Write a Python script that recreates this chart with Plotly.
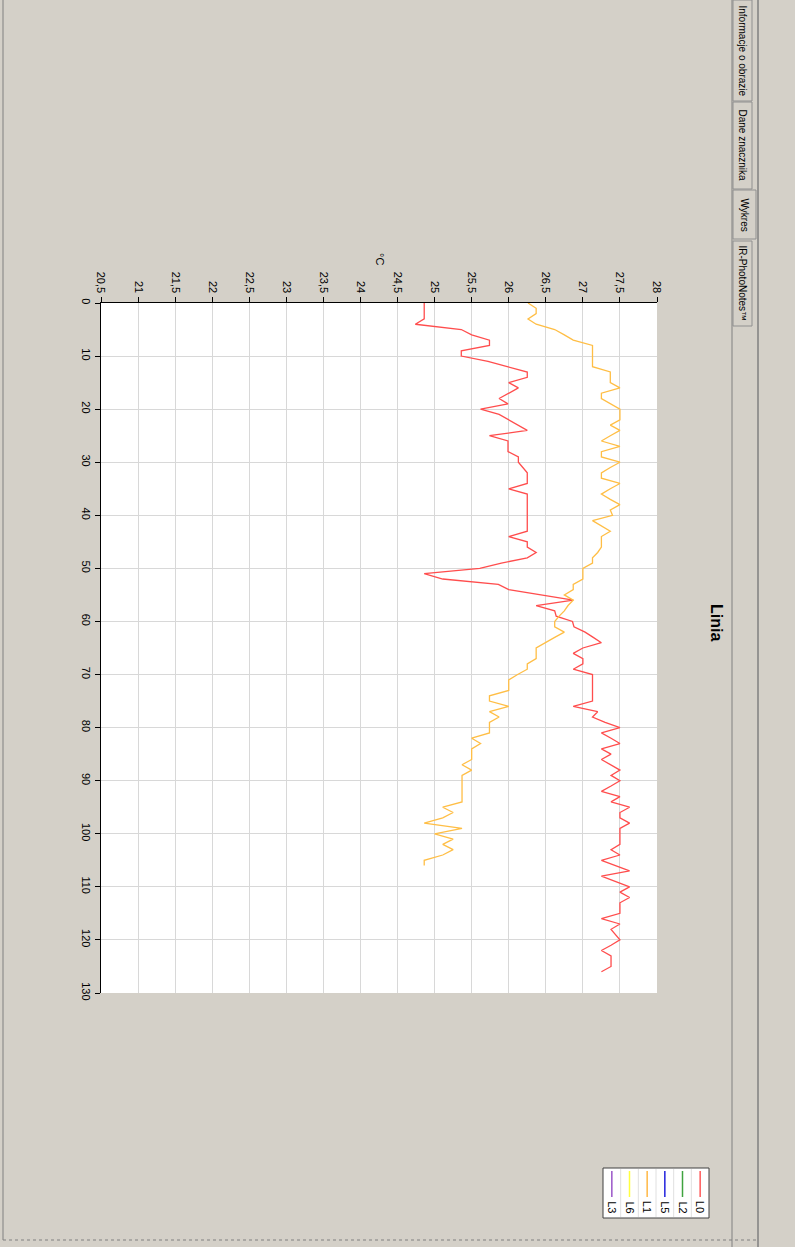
import plotly.graph_objects as go

# ---------------- data ----------------
distance_L0 = list(range(0, 127))
temp_L0 = [24.86, 24.86, 24.86, 24.86, 24.74, 25.36, 25.50, 25.74, 25.74, 25.36,
           25.36, 25.72, 25.98, 26.25, 26.25, 26.00, 26.13, 26.00, 25.87, 25.99,
           25.62, 25.87, 26.00, 26.12, 26.25, 25.74, 25.99, 25.99, 25.99, 26.13,
           26.13, 26.19, 26.25, 26.25, 26.25, 26.00, 26.25, 26.25, 26.25, 26.25,
           26.25, 26.25, 26.25, 26.25, 26.00, 26.25, 26.25, 26.37, 26.25, 25.90,
           25.61, 24.86, 25.11, 25.86, 26.00, 26.43, 26.87, 26.37, 26.62, 26.64,
           26.86, 26.88, 27.03, 27.14, 27.25, 27.00, 26.87, 27.00, 27.00, 26.87,
           27.13, 27.13, 27.13, 27.13, 27.13, 27.13, 26.87, 27.20, 27.13, 27.30,
           27.50, 27.25, 27.38, 27.50, 27.25, 27.38, 27.25, 27.38, 27.50, 27.38,
           27.50, 27.38, 27.25, 27.50, 27.38, 27.63, 27.50, 27.50, 27.63, 27.50,
           27.50, 27.50, 27.50, 27.38, 27.50, 27.25, 27.44, 27.63, 27.25, 27.44,
           27.63, 27.50, 27.63, 27.50, 27.50, 27.50, 27.25, 27.50, 27.38, 27.44,
           27.50, 27.38, 27.25, 27.38, 27.38, 27.38, 27.25]

distance_L1 = list(range(0, 107))
temp_L1 = [26.26, 26.37, 26.37, 26.26, 26.37, 26.62, 26.75, 26.87, 27.13, 27.13,
           27.13, 27.13, 27.13, 27.37, 27.37, 27.37, 27.50, 27.25, 27.25, 27.37,
           27.50, 27.50, 27.50, 27.37, 27.50, 27.37, 27.25, 27.50, 27.25, 27.25,
           27.50, 27.37, 27.25, 27.25, 27.50, 27.37, 27.25, 27.37, 27.50, 27.37,
           27.40, 27.13, 27.25, 27.37, 27.25, 27.25, 27.25, 27.20, 27.13, 27.13,
           27.00, 27.00, 27.00, 26.87, 26.87, 26.75, 26.87, 26.80, 26.75, 26.68,
           26.62, 26.62, 26.75, 26.62, 26.50, 26.37, 26.37, 26.37, 26.25, 26.25,
           26.12, 26.00, 26.00, 26.00, 25.74, 25.74, 26.00, 25.74, 25.87, 25.74,
           25.74, 25.74, 25.50, 25.62, 25.50, 25.50, 25.50, 25.37, 25.50, 25.37,
           25.37, 25.37, 25.37, 25.37, 25.37, 25.11, 25.25, 25.11, 24.86, 25.37,
           25.00, 25.25, 25.11, 25.25, 25.11, 24.86, 24.86]

legend_names = ["L0", "L2", "L5", "L1", "L6", "L3"]
legend_colors = ["#ff5a5a", "#3fa33f", "#2222dd", "#ffb845", "#ffff40", "#9a55c8"]

temp_ticks = [20.5, 21, 21.5, 22, 22.5, 23, 23.5, 24, 24.5, 25, 25.5, 26, 26.5, 27, 27.5, 28]
temp_tick_labels = ["20,5", "21", "21,5", "22", "22,5", "23", "23,5", "24", "24,5",
                    "25", "25,5", "26", "26,5", "27", "27,5", "28"]
dist_ticks = list(range(0, 131, 10))

tab_labels = ["Informacje o obrazie", "Dane znacznika", "Wykres", "IR-PhotoNotes\u2122"]
title_text = "Linia"
unit_text = "\u00b0C"

# ---------------- layout geometry ----------------
W, H = 795, 1247
L, R, T, B = 101, 138, 303, 254
PW = W - L - R
PH = H - T - B
BG = "#d4d0c8"
FONT = "Liberation Sans"


def px(x):
    return (x - L) / PW


def py(y):
    return (H - B - y) / PH


fig = go.Figure()
fig.add_trace(go.Scatter(x=temp_L0, y=distance_L0, mode="lines", name="L0",
                         line=dict(color="#ff4d4d", width=1.3), showlegend=False))
fig.add_trace(go.Scatter(x=temp_L1, y=distance_L1, mode="lines", name="L1",
                         line=dict(color="#ffbe45", width=1.3), showlegend=False))

shapes = []
annotations = []

# frame lines of the window
shapes.append(dict(type="line", xref="paper", yref="paper", x0=px(3), x1=px(3), y0=py(0), y1=py(1240),
                   line=dict(color="#808080", width=1)))
shapes.append(dict(type="line", xref="paper", yref="paper", x0=px(3), x1=px(757), y0=py(1240), y1=py(1240),
                   line=dict(color="#808080", width=1, dash="dot")))
shapes.append(dict(type="line", xref="paper", yref="paper", x0=px(732), x1=px(732), y0=py(0), y1=py(1247),
                   line=dict(color="#808080", width=1)))
shapes.append(dict(type="line", xref="paper", yref="paper", x0=px(758), x1=px(758), y0=py(0), y1=py(1247),
                   line=dict(color="#808080", width=1.5)))

# tabs
tab_spans = [(0, 101), (102, 189), (190, 239), (241, 326)]
for i, (lab, (a, b)) in enumerate(zip(tab_labels, tab_spans)):
    right = 756 if i == 2 else 752
    shapes.append(dict(type="rect", xref="paper", yref="paper", x0=px(733), x1=px(right),
                       y0=py(b), y1=py(a), fillcolor=BG,
                       line=dict(color="#909090", width=1)))
    annotations.append(dict(xref="paper", yref="paper", x=px(742 if i != 2 else 744), y=py((a + b) / 2),
                            text=lab, showarrow=False, textangle=90,
                            font=dict(family=FONT, size=10, color="#000000"),
                            xanchor="center", yanchor="middle"))

# title and unit
annotations.append(dict(xref="paper", yref="paper", x=px(717), y=py(622), text="<b>" + title_text + "</b>",
                        showarrow=False, textangle=90, font=dict(family=FONT, size=16, color="#000000"),
                        xanchor="center", yanchor="middle"))
annotations.append(dict(xref="paper", yref="paper", x=px(380), y=py(259), text=unit_text,
                        showarrow=False, textangle=90, font=dict(family=FONT, size=11, color="#000000"),
                        xanchor="center", yanchor="middle"))

# legend (rotated, drawn manually)
lx0, lx1, ly0, ly1 = 603, 709, 1168, 1218
shapes.append(dict(type="rect", xref="paper", yref="paper", x0=px(lx0), x1=px(lx1), y0=py(ly1), y1=py(ly0),
                   fillcolor="#ffffff", line=dict(color="#404040", width=1)))
colw = (lx1 - lx0) / len(legend_names)
for k, (nm, col) in enumerate(zip(legend_names, legend_colors)):
    cx = lx1 - colw * (k + 0.5)
    if k > 0:
        sx = lx1 - colw * k
        shapes.append(dict(type="line", xref="paper", yref="paper", x0=px(sx), x1=px(sx),
                           y0=py(ly1 - 1), y1=py(ly0 + 1), line=dict(color="#e0e0e0", width=1)))
    shapes.append(dict(type="line", xref="paper", yref="paper", x0=px(cx), x1=px(cx),
                       y0=py(1197), y1=py(1171), line=dict(color=col, width=1.5)))
    annotations.append(dict(xref="paper", yref="paper", x=px(cx), y=py(1207), text=nm,
                            showarrow=False, textangle=90, font=dict(family=FONT, size=11, color="#000000"),
                            xanchor="center", yanchor="middle"))

fig.update_layout(
    width=W, height=H,
    margin=dict(l=L, r=R, t=T, b=B, pad=0),
    paper_bgcolor=BG, plot_bgcolor="#ffffff",
    font=dict(family=FONT, size=11, color="#000000"),
    shapes=shapes, annotations=annotations,
    showlegend=False,
)
fig.update_xaxes(range=[20.5, 28], side="top", tickvals=temp_ticks, ticktext=temp_tick_labels, tickangle=90,
                 showline=True, linecolor="#000000", linewidth=1,
                 ticks="outside", ticklen=5, tickcolor="#000000",
                 showgrid=True, gridcolor="#d8d8d8", gridwidth=1, zeroline=False,
                 tickfont=dict(family=FONT, size=11, color="#000000"))
fig.update_yaxes(range=[130, 0], tickvals=dist_ticks, tickangle=90,
                 showline=True, linecolor="#000000", linewidth=1,
                 ticks="outside", ticklen=5, tickcolor="#000000",
                 showgrid=True, gridcolor="#d8d8d8", gridwidth=1, zeroline=False,
                 tickfont=dict(family=FONT, size=11, color="#000000"))

fig.write_html("out.html",
               config={"displayModeBar": False},
               post_script="document.body.style.margin='0';document.body.style.background='#d4d0c8';")
